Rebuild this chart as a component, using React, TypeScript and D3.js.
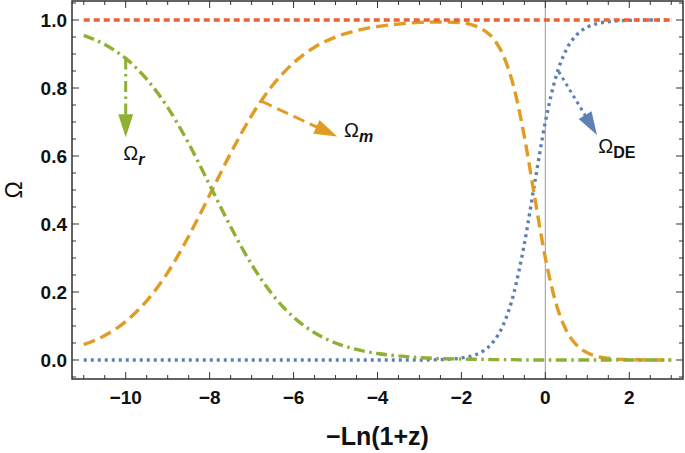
import * as d3 from "d3";

// -Ln(1+z) sample points
const xs = [-11, -10.5, -10, -9.5, -9, -8.5, -8, -7.5, -7, -6.5, -6, -5.5, -5, -4.5, -4, -3.5, -3, -2.5, -2,
  -1.75, -1.5, -1.25, -1, -0.75, -0.5, -0.25, 0, 0.25, 0.5, 0.75, 1, 1.25, 1.5, 2, 2.5, 3];

const omegaR = [0.955, 0.928, 0.887, 0.826, 0.743, 0.637, 0.515, 0.392, 0.281, 0.192, 0.126, 0.080, 0.050, 0.031, 0.019, 0.012, 0.007, 0.004, 0.003,
  0.002, 0.002, 0.001, 0.001, 0.001, 0, 0, 0, 0, 0, 0, 0, 0, 0, 0, 0, 0];

const omegaM = [0.045, 0.072, 0.113, 0.174, 0.257, 0.364, 0.485, 0.608, 0.719, 0.808, 0.874, 0.920, 0.950, 0.969, 0.981, 0.988, 0.993, 0.994, 0.992,
  0.986, 0.973, 0.947, 0.895, 0.802, 0.657, 0.476, 0.300, 0.168, 0.087, 0.043, 0.021, 0.010, 0.005, 0.001, 0, 0];

const omegaDE = [0, 0, 0, 0, 0, 0, 0, 0, 0, 0, 0, 0, 0, 0, 0, 0, 0, 0.001, 0.006,
  0.012, 0.025, 0.052, 0.104, 0.197, 0.342, 0.524, 0.700, 0.832, 0.913, 0.957, 0.979, 0.990, 0.995, 0.999, 1, 1];

// total density parameter
const totX = [-11, 3];
const totY = [1, 1];

const xTicks = [-10, -8, -6, -4, -2, 0, 2];
const yTicks = [0, 0.2, 0.4, 0.6, 0.8, 1.0];

// annotation arrows: [start x, start y, tip x, tip y]
const arrowStart = [[-10, 0.887], [-6.78, 0.762], [0.32, 0.848]];
const arrowTip = [[-10, 0.655], [-4.96, 0.657], [1.23, 0.662]];
const labelPos = [[-10.06, 0.588], [-4.8, 0.655], [1.26, 0.61]];
const labelSub = ["r", "m", "DE"];

const W = 685, H = 453;
const left = 72, right = 683, top = 1, bottom = 379;
const font = "'Liberation Sans', Arial, sans-serif";

const C_BLUE = "#5E81B5", C_ORANGE = "#E19C24", C_GREEN = "#8FB032", C_RED = "#EB6235";

export default function App() {
  const x = d3.scaleLinear().domain([-11.28, 3.28]).range([left, right]);
  const y = d3.scaleLinear().domain([-0.0559, 1.0559]).range([bottom, top]);

  const mk = (vals: number[]) =>
    d3.line<number>().x((_, i) => x(xs[i])).y((d) => y(d)).curve(d3.curveMonotoneX)(vals) || "";
  const totPath = d3.line<number>().x((_, i) => x(totX[i])).y((d) => y(d))(totY) || "";

  const xMinor = d3.range(-11, 3.01, 0.5);
  const yMinor = d3.range(-0.05, 1.051, 0.05);

  const styles = [
    { color: C_GREEN, dash: "11,4.5,2.5,4.5" },
    { color: C_ORANGE, dash: "12,6" },
    { color: C_BLUE, dash: "3,4" },
  ];

  const arrows = arrowStart.map((s, i) => {
    const x0 = x(s[0]), y0 = y(s[1]);
    const x1 = x(arrowTip[i][0]), y1 = y(arrowTip[i][1]);
    const ang = Math.atan2(y1 - y0, x1 - x0);
    const hl = 23, hw = 7.5;
    const bx = x1 - hl * Math.cos(ang), by = y1 - hl * Math.sin(ang);
    const px = -Math.sin(ang) * hw, py = Math.cos(ang) * hw;
    return {
      shaft: `M${x0},${y0}L${bx + 2 * Math.cos(ang)},${by + 2 * Math.sin(ang)}`,
      head: `M${x1},${y1}L${bx + px},${by + py}L${bx - px},${by - py}Z`,
      ...styles[i],
    };
  });

  return (
    <svg width={W} height={H} style={{ position: "absolute", left: 0, top: 0, background: "#fff" }} fontFamily={font}>
      {/* zero line */}
      <line x1={x(0)} x2={x(0)} y1={top} y2={bottom} stroke="#aaa" strokeWidth={1.2} />

      {/* curves */}
      <path d={mk(omegaDE)} fill="none" stroke={C_BLUE} strokeWidth={3.4} strokeDasharray="3,4" />
      <path d={mk(omegaM)} fill="none" stroke={C_ORANGE} strokeWidth={3.4} strokeDasharray="12,6" />
      <path d={mk(omegaR)} fill="none" stroke={C_GREEN} strokeWidth={3.4} strokeDasharray="11,4.5,2.5,4.5" />
      <path d={totPath} fill="none" stroke={C_RED} strokeWidth={3.4} strokeDasharray="6,4" />

      {/* arrows */}
      {arrows.map((a, i) => (
        <g key={i}>
          <path d={a.shaft} fill="none" stroke={a.color} strokeWidth={3} strokeDasharray={a.dash} />
          <path d={a.head} fill={a.color} />
        </g>
      ))}

      {/* labels */}
      {labelPos.map((p, i) => (
        <text key={i} x={x(p[0])} y={y(p[1])} fontSize={20} fill="#111">
          Ω
          <tspan dy={5} fontSize={16} fontWeight="bold" fontStyle={i < 2 ? "italic" : "normal"}>{labelSub[i]}</tspan>
        </text>
      ))}

      {/* frame */}
      <rect x={left} y={top} width={right - left} height={bottom - top} fill="none" stroke="#222" strokeWidth={1.4} />

      {/* ticks */}
      {xMinor.map((t) => {
        const major = xTicks.includes(Math.round(t * 10) / 10);
        const len = major ? 7 : 4;
        return (
          <g key={"x" + t} stroke="#333" strokeWidth={1}>
            <line x1={x(t)} x2={x(t)} y1={bottom} y2={bottom - len} />
            <line x1={x(t)} x2={x(t)} y1={top} y2={top + len} />
          </g>
        );
      })}
      {yMinor.map((t) => {
        const major = yTicks.some((v) => Math.abs(v - t) < 1e-6);
        const len = major ? 7 : 4;
        return (
          <g key={"y" + t} stroke="#333" strokeWidth={1}>
            <line x1={left} x2={left + len} y1={y(t)} y2={y(t)} />
            <line x1={right} x2={right - len} y1={y(t)} y2={y(t)} />
          </g>
        );
      })}

      {xTicks.map((t) => (
        <text key={"xl" + t} x={x(t)} y={404} textAnchor="middle" fontSize={19} fontWeight="bold" fill="#111">
          {t < 0 ? "\u2212" + Math.abs(t) : String(t)}
        </text>
      ))}
      {yTicks.map((t) => (
        <text key={"yl" + t} x={67} y={y(t)} dy="0.36em" textAnchor="end" fontSize={19} fontWeight="bold" fill="#111">
          {t.toFixed(1)}
        </text>
      ))}

      {/* axis titles */}
      <text x={(left + right) / 2} y={445} textAnchor="middle" fontSize={25} fontWeight="bold" fill="#111">
        {"\u2212Ln(1+z)"}
      </text>
      <text transform={`translate(22,${y(0.5)}) rotate(-90)`} textAnchor="middle" fontSize={23} fill="#111">
        Ω
      </text>
    </svg>
  );
}
